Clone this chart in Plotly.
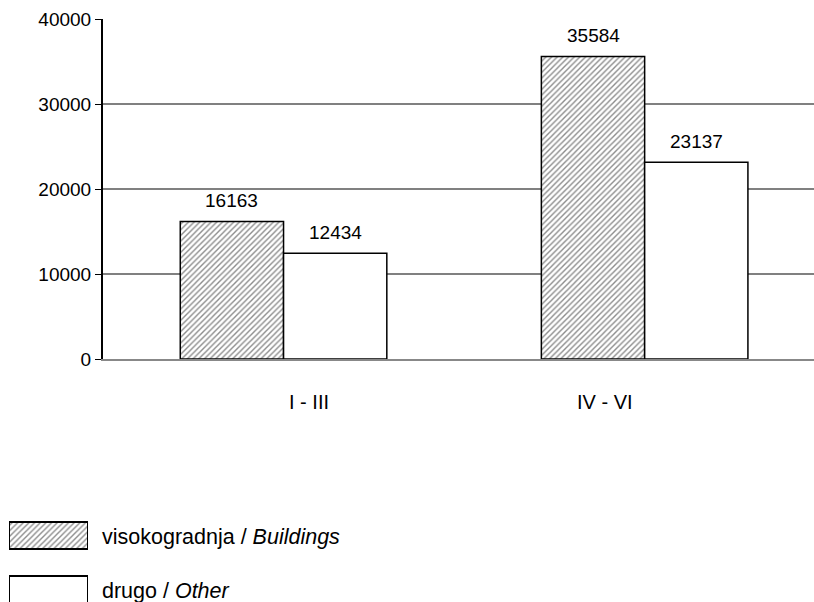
import plotly.graph_objects as go

categories = ["I - III", "IV - VI"]
buildings = [16163, 35584]
other = [12434, 23137]
series_names = ["visokogradnja / <i>Buildings</i>", "drugo / <i>Other</i>"]
y_ticks = [0, 10000, 20000, 30000, 40000]

W, H = 814, 602
FONT = "Liberation Sans, Arial, sans-serif"
hatch = dict(shape="/", fgcolor="#1a1a1a", bgcolor="white", size=4, solidity=0.35)
outline = dict(color="black", width=1.5)

fig = go.Figure()
fig.add_trace(go.Bar(x=categories, y=buildings, name="Buildings",
                     marker=dict(color="white", pattern=hatch, line=outline),
                     showlegend=False))
fig.add_trace(go.Bar(x=categories, y=other, name="Other",
                     marker=dict(color="white", line=outline),
                     showlegend=False))

ann = []
# value labels above the bars
for i, c in enumerate(categories):
    for off, vals in ((-0.143, buildings), (0.143, other)):
        ann.append(dict(x=i + off, y=vals[i], xref="x", yref="y", text=str(vals[i]),
                        showarrow=False, yanchor="middle", yshift=21,
                        font=dict(family=FONT, size=19, color="black")))
# category labels (placed as in the original)
label_offsets = [0.07, -0.11]
for i, c in enumerate(categories):
    ann.append(dict(x=i + label_offsets[i], y=1 - 402 / H, xref="x", yref="paper", text=c,
                    showarrow=False, yanchor="middle",
                    font=dict(family=FONT, size=20, color="black")))

# legend swatches drawn in a small auxiliary axis
fig.add_trace(go.Bar(y=[66.5], x=[1], orientation="h", width=27, xaxis="x2", yaxis="y2",
                     marker=dict(color="white", pattern=hatch, line=dict(color="black", width=2)),
                     showlegend=False, hoverinfo="skip"))
fig.add_trace(go.Bar(y=[12.5], x=[1], orientation="h", width=27, xaxis="x2", yaxis="y2",
                     marker=dict(color="white", line=dict(color="black", width=2)),
                     showlegend=False, hoverinfo="skip"))
for name, yp in zip(series_names, [537, 591]):
    ann.append(dict(x=100 / W, y=1 - yp / H, xref="paper", yref="paper", text=name,
                    showarrow=False, xanchor="left", yanchor="middle",
                    font=dict(family=FONT, size=21.5, color="black")))

fig.update_layout(
    width=W, height=H,
    margin=dict(l=0, r=0, t=0, b=0, autoexpand=False),
    paper_bgcolor="white", plot_bgcolor="white",
    barmode="group", bargap=0.428, bargroupgap=0,
    annotations=ann,
    font=dict(family=FONT, size=19, color="black"),
    xaxis=dict(domain=[103 / W, 1], range=[-0.5, 1.469], showgrid=False,
               showline=True, linecolor="#888888", linewidth=2, automargin=False,
               ticks="", showticklabels=False, fixedrange=True),
    yaxis=dict(domain=[1 - 359 / H, 1 - 19 / H], range=[0, 40000],
               tickvals=y_ticks, ticktext=[str(v) for v in y_ticks],
               showgrid=True, gridcolor="#808080", gridwidth=1.5,
               showline=True, linecolor="black", linewidth=2, automargin=False,
               ticks="outside", ticklen=6, tickcolor="black", tickwidth=1,
               zeroline=False, fixedrange=True,
               tickfont=dict(family=FONT, size=19, color="black")),
    xaxis2=dict(domain=[9 / W, 88 / W], range=[0, 1], visible=False, fixedrange=True,
                anchor="y2", automargin=False),
    yaxis2=dict(domain=[0, 82 / H], range=[0, 82], visible=False, fixedrange=True,
                anchor="x2", automargin=False),
)

fig.write_html("out.html", config={"displayModeBar": False},
               post_script="document.body.style.margin='0';document.body.style.overflow='hidden';")
